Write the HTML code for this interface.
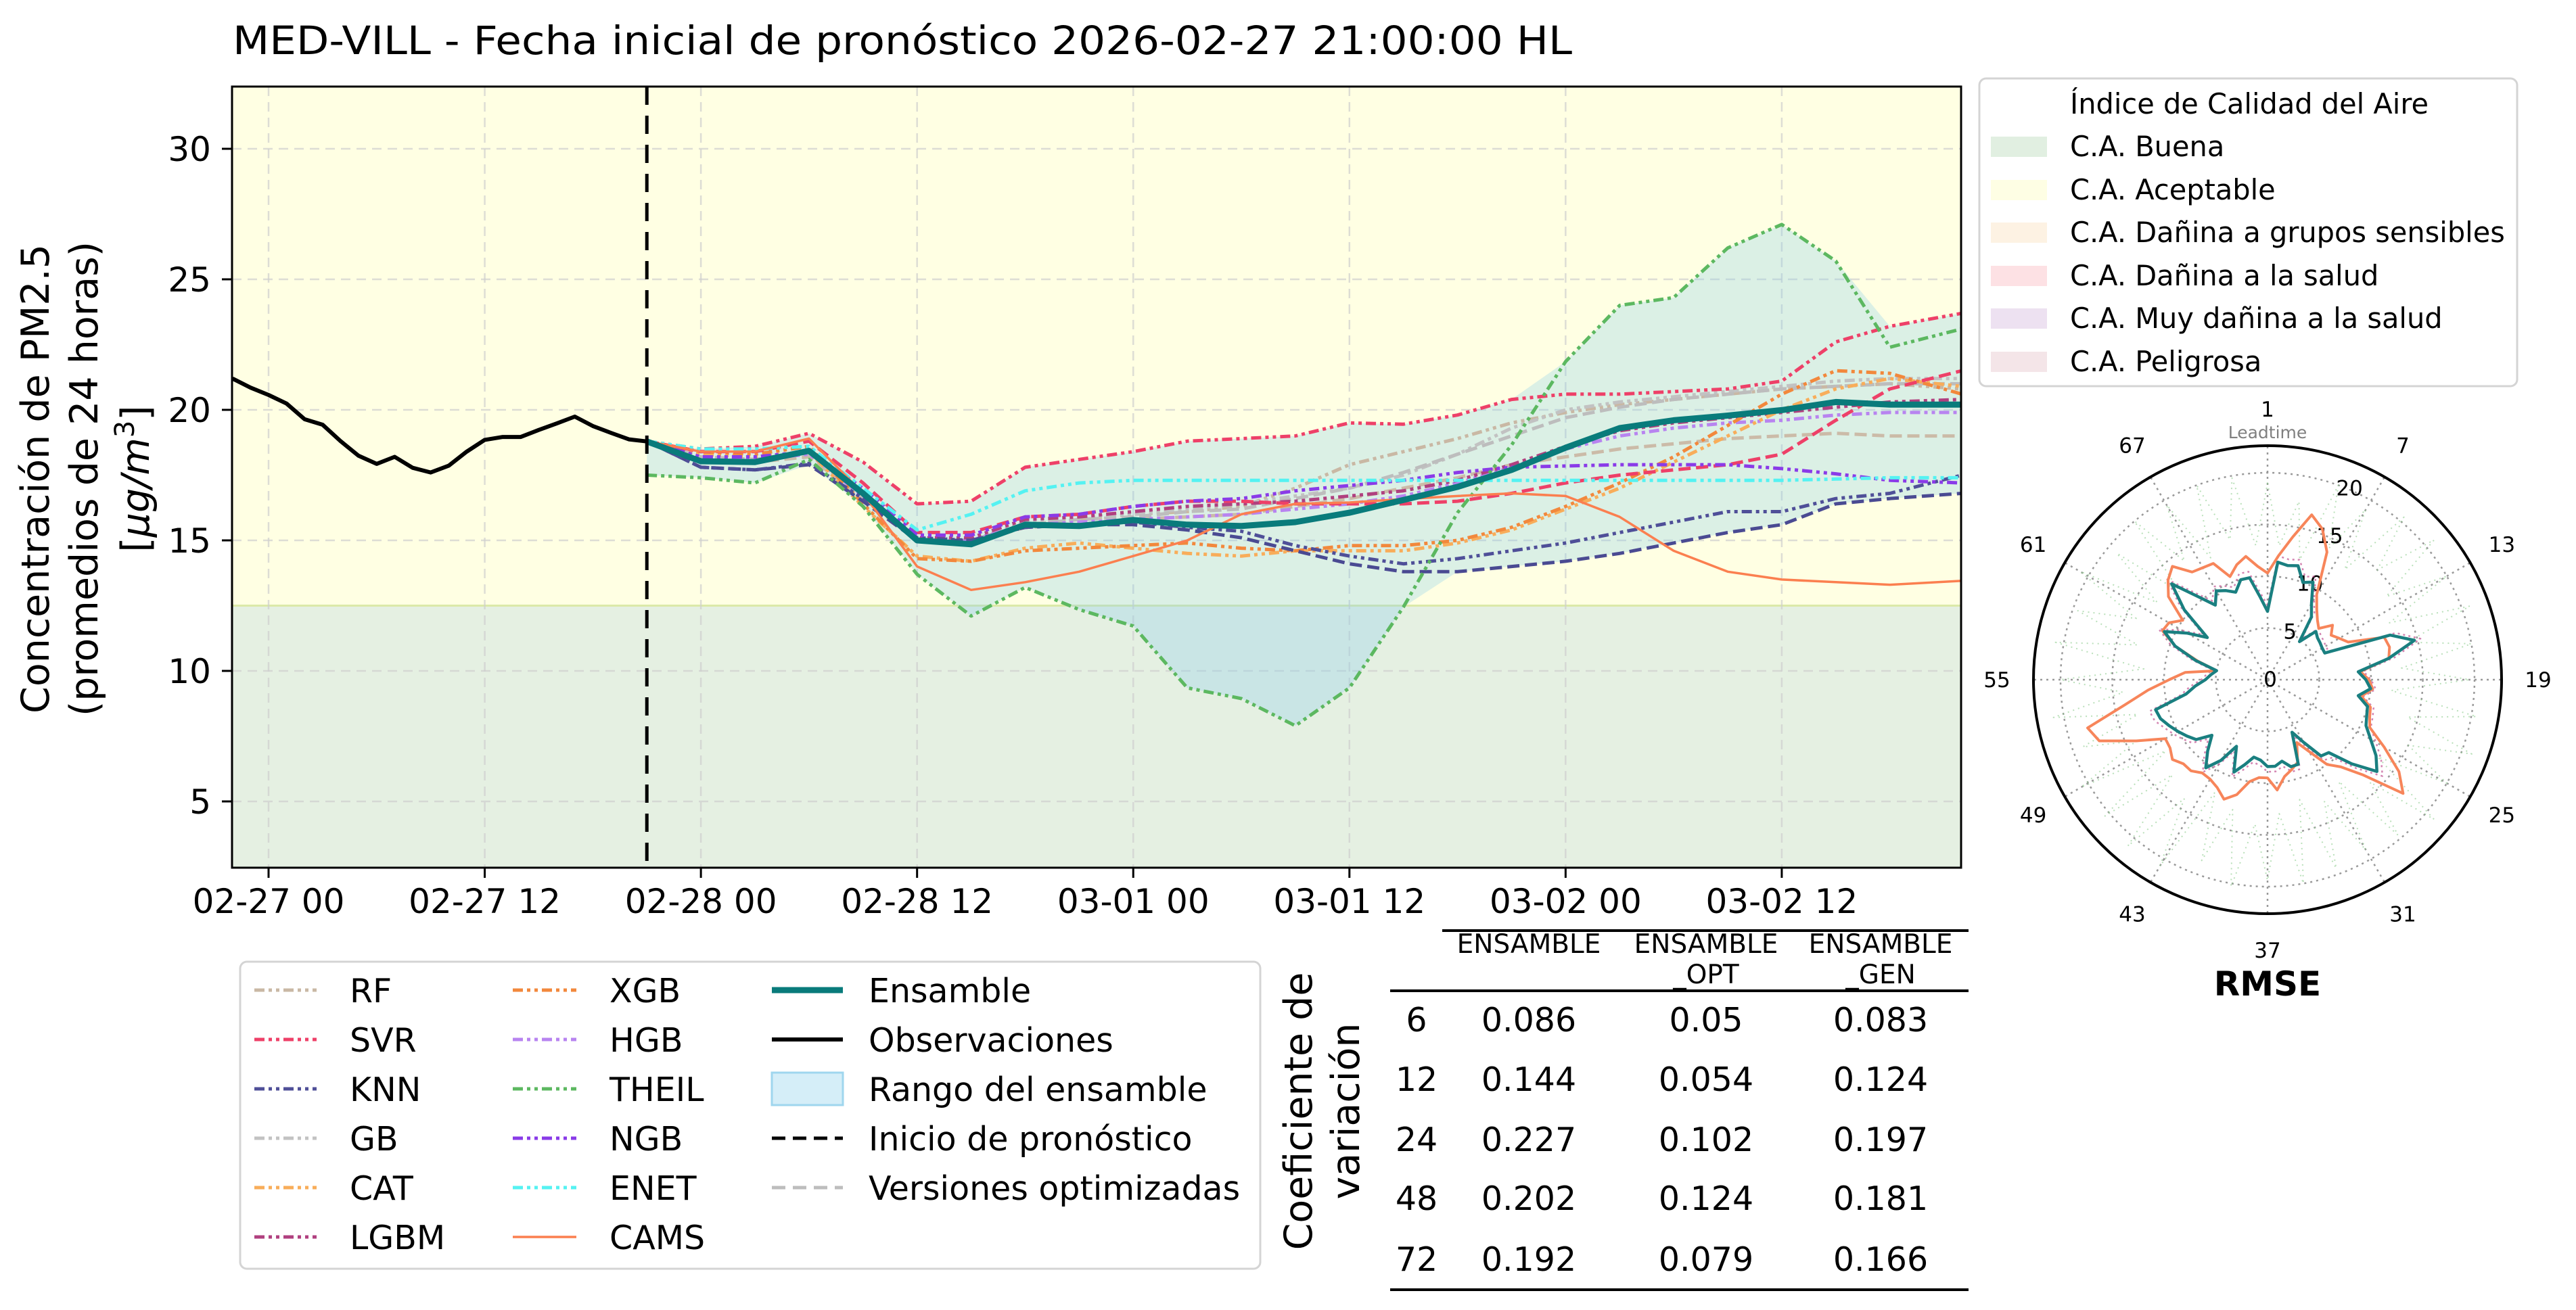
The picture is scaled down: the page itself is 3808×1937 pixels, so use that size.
<!DOCTYPE html>
<html><head><meta charset="utf-8"><style>
html,body{margin:0;padding:0;background:#fff;}
svg{display:block;font-family:"DejaVu Sans","Liberation Sans",sans-serif;}
</style></head><body>
<svg id="fig" width="3808" height="1937" viewBox="0 0 3808 1937" xmlns="http://www.w3.org/2000/svg">
<defs><clipPath id="plotclip"><rect x="343" y="128" width="2556" height="1155"/></clipPath></defs>
<text x="344" y="80" font-size="58" textLength="1980" lengthAdjust="spacingAndGlyphs" fill="#000">MED-VILL - Fecha inicial de pronóstico 2026-02-27 21:00:00 HL</text>
<g id="main"></g>
<g id="legend-aqi"></g>
<g id="polar"></g>
<g id="legend-models"></g>
<g id="table"></g>
</svg>
<script>
// ---------- data: main chart ----------
const obsHours = [-2,-1,0,1,2,3,4,5,6,7,8,9,10,11,12,13,14,15,16,17,18,19,20,21];
const obsValues = [21.2,20.85,20.57,20.24,19.64,19.43,18.8,18.24,17.93,18.2,17.78,17.6,17.86,18.4,18.85,18.96,18.96,19.23,19.48,19.74,19.38,19.12,18.87,18.79];
const fcHours = [21,24,27,30,33,36,39,42,45,48,51,54,57,60,63,66,69,72,75,78,81,84,87,90,94];
const ensamble = [18.79,18.03,18.0,18.43,16.8,15.0,14.85,15.6,15.55,15.78,15.6,15.55,15.7,16.06,16.55,17.05,17.7,18.55,19.3,19.6,19.78,19.99,20.3,20.2,20.2];
const rf   = [18.8,18.2,18.1,18.3,16.7,15.0,15.0,15.6,15.8,16.0,16.1,16.3,17.0,17.9,18.4,18.9,19.5,19.9,20.2,20.4,20.6,20.8,20.9,21.0,20.8];
const svr  = [18.8,18.5,18.6,19.1,18.0,16.4,16.5,17.8,18.1,18.4,18.8,18.9,19.0,19.5,19.45,19.8,20.4,20.6,20.6,20.7,20.8,21.1,22.6,23.2,23.7];
const knn  = [18.8,17.8,17.7,17.95,16.6,15.1,15.0,15.5,15.6,15.7,15.5,15.35,14.8,14.4,14.1,14.3,14.6,14.9,15.3,15.7,16.1,16.1,16.6,16.8,17.5];
const gb   = [18.8,18.3,18.2,18.4,16.8,15.1,15.0,15.7,15.9,16.0,16.2,16.4,16.7,17.0,17.5,18.3,19.3,20.0,20.3,20.5,20.7,20.9,21.1,21.2,21.2];
const cat  = [18.8,18.3,18.2,18.4,16.3,14.4,14.2,14.7,14.9,14.7,14.5,14.4,14.6,14.6,14.6,14.9,15.4,16.2,17.0,18.0,19.0,20.0,20.8,21.2,20.9];
const lgbm = [18.8,18.3,18.2,18.4,16.8,15.1,15.1,15.8,15.9,16.1,16.3,16.4,16.5,16.7,16.9,17.3,17.9,18.6,19.2,19.5,19.7,19.9,20.1,20.3,20.4];
const xgb  = [18.8,18.4,18.3,18.6,16.4,14.3,14.2,14.6,14.7,14.8,14.9,14.7,14.6,14.8,14.8,15.0,15.5,16.3,17.2,18.2,19.4,20.6,21.5,21.4,20.6];
const hgb  = [18.8,18.2,18.1,18.3,16.7,15.0,15.0,15.6,15.7,15.8,15.9,16.0,16.2,16.4,16.7,17.2,17.8,18.5,19.0,19.3,19.5,19.6,19.8,19.9,19.9];
const theil= [17.5,17.4,17.2,18.1,16.3,13.7,12.1,13.2,12.35,11.72,9.35,8.94,7.9,9.35,12.45,16.06,18.65,21.85,24.0,24.3,26.2,27.1,25.7,22.4,23.1];
const ngb  = [18.8,18.2,18.2,18.4,17.0,15.2,15.2,15.9,16.0,16.3,16.5,16.6,16.9,17.1,17.3,17.6,17.8,17.85,17.9,17.9,17.9,17.75,17.55,17.3,17.2];
const enet = [18.8,18.5,18.5,18.6,17.0,15.4,16.0,16.9,17.2,17.3,17.3,17.3,17.3,17.3,17.3,17.3,17.3,17.3,17.3,17.3,17.3,17.3,17.35,17.4,17.4];
const cams = [18.8,18.4,18.4,18.9,16.8,14.0,13.1,13.4,13.8,14.4,15.0,16.0,16.4,16.45,16.58,16.7,16.8,16.7,15.9,14.6,13.8,13.5,13.4,13.3,13.45];
const svrOpt = [18.8,18.4,18.4,18.8,17.2,15.3,15.3,15.9,16.0,16.3,16.5,16.5,16.4,16.4,16.4,16.5,16.8,17.2,17.5,17.7,17.9,18.3,19.6,20.8,21.5];
const knnOpt = [18.8,17.8,17.7,17.9,16.5,15.0,15.0,15.5,15.6,15.6,15.4,15.1,14.6,14.1,13.8,13.8,14.0,14.2,14.5,14.9,15.3,15.6,16.4,16.6,16.8];
const rfOpt  = [18.8,18.1,18.0,18.2,16.6,15.0,14.9,15.5,15.6,15.8,15.9,16.0,16.3,16.6,17.0,17.4,17.9,18.2,18.5,18.7,18.9,19.0,19.1,19.0,19.0];
const gbOpt  = [18.8,18.2,18.1,18.3,16.7,15.0,15.0,15.6,15.8,15.9,16.1,16.2,16.6,17.0,17.6,18.3,19.0,19.7,20.1,20.4,20.6,20.8,20.9,21.0,21.0];
const xTickHours = [0,12,24,36,48,60,72,84];
const xTickLabels = ["02-27 00","02-27 12","02-28 00","02-28 12","03-01 00","03-01 12","03-02 00","03-02 12"];
const yTicks = [5,10,15,20,25,30];
const forecastStartHour = 21;
const aqiThreshold = 12.5;
// ---------- data: polar RMSE ----------
const leadtimes = Array.from({length:72},(_,i)=>i+1);
const rmseEnsamble = [6.6,11.4,11.2,11.4,10.0,10.4,8.5,7.4,4.8,6.6,6.3,6.2,6.1,6.1,12.6,14.7,11.9,8.8,9.5,10.0,8.9,10.0,10.2,10.5,11.5,12.8,13.8,11.5,9.2,9.0,7.0,5.6,8.7,8.7,8.0,8.4,8.4,7.8,7.6,8.5,9.5,7.1,9.0,10.4,9.0,7.6,9.0,9.5,10.0,10.5,11.0,11.2,8.0,7.0,6.0,5.5,5.0,7.2,9.5,11.0,9.0,7.1,10.5,13.1,10.5,8.8,9.9,9.5,9.0,10.0,10.0,8.0];
const rmseCams = [10.3,12,14,16.5,15.5,13.6,9.5,8.3,7.5,7.0,8.2,7.5,8.0,8.6,12.0,12.2,11.9,9.0,9.8,10.2,9.2,10.3,10.5,10.9,13.0,15.5,17.1,13.0,11.0,10.0,8.0,6.7,8.5,9.0,9.5,10.7,9.5,9.5,10.0,11.5,12.3,11.5,11.1,11.0,11.5,11.5,12.0,11.5,11.4,14.0,17.3,18.0,14.0,11.6,9.5,8.0,5.0,7.0,9.5,11.2,11.0,10.0,12.5,13.6,14.3,12.7,12.5,12.4,10.6,11.5,12.1,11.0];
const rmseTheil = [19,13,17.5,12,20,14,19,13,20.5,15,21,14,20,13,20.8,14,20,13,19.5,12,20.5,14,21,15,20,13,21,14,19.6,12,19,13,19.4,12,20,13,19.4,14,20.3,13,18.6,12,20.8,14,21,13,20.5,12,20.8,14,19,13,21,14,20,12,20.8,13,19.5,14,20.9,13,19,12,20,14,19.5,13,20,14,19.8,13];
const rmseLgbm = [7.2,12.0,11.8,12.0,10.6,11.0,9.0,7.9,5.2,7.0,6.7,6.6,6.5,6.5,13.2,15.3,12.5,9.3,10.0,10.5,9.4,10.6,10.8,11.0,12.1,13.4,14.5,12.1,9.8,9.5,7.5,6.0,9.2,9.2,8.5,8.9,8.9,8.3,8.1,9.0,10.0,7.6,9.5,10.9,9.5,8.1,9.5,10.0,10.5,11.0,11.6,11.8,8.5,7.5,6.4,5.9,5.4,7.7,10.0,11.6,9.5,7.6,11.0,13.7,11.0,9.3,10.4,10.0,9.5,10.6,10.6,8.5];
const radialTicks = [0,5,10,15,20];
const angleLabelIdx = [0,6,12,18,24,30,36,42,48,54,60,66];
// ---------- table ----------
const cvRows = ["6","12","24","48","72"];
const cvEns = ["0.086","0.144","0.227","0.202","0.192"];
const cvOpt = ["0.05","0.054","0.102","0.124","0.079"];
const cvGen = ["0.083","0.124","0.197","0.181","0.166"];

const NS="http://www.w3.org/2000/svg";
function mk(tag,attrs,parent,txt){const e=document.createElementNS(NS,tag);for(const k in attrs)e.setAttribute(k,attrs[k]);if(txt!==undefined)e.textContent=txt;parent.appendChild(e);return e;}

const PL=343,PR=2899,PT=128,PB=1283;
function X(h){return 397+26.63*h;}
function Y(v){return 1378-38.6*v;}
const main=document.getElementById('main');
const bgTop=mk('rect',{x:PL,y:PT,width:PR-PL,height:Y(aqiThreshold)-PT,fill:'#ffffe3'},main);


const bgBot=mk('rect',{x:PL,y:Y(aqiThreshold),width:PR-PL,height:PB-Y(aqiThreshold),fill:'#e5f0e2'},main);


const thr=mk('line',{x1:PL,x2:PR,y1:Y(aqiThreshold),y2:Y(aqiThreshold),stroke:'#dbe9a8','stroke-width':3},main);


xTickHours.forEach((h,i)=>{
  const g=mk('line',{x1:X(h),x2:X(h),y1:PT,y2:PB,stroke:'#cfcfcf','stroke-width':2.5,'stroke-dasharray':'14,9',opacity:0.7},main);
  
  
  const t=mk('line',{x1:X(h),x2:X(h),y1:PB,y2:PB+15,stroke:'#000','stroke-width':3},main);
  
  
  const l=mk('text',{x:X(h),y:1350,'font-size':50,'text-anchor':'middle'},main,xTickLabels[i]);
  
  
});
yTicks.forEach(v=>{
  const g=mk('line',{x1:PL,x2:PR,y1:Y(v),y2:Y(v),stroke:'#cfcfcf','stroke-width':2.5,'stroke-dasharray':'14,9',opacity:0.7},main);
  
  
  const t=mk('line',{x1:PL-15,x2:PL,y1:Y(v),y2:Y(v),stroke:'#000','stroke-width':3},main);
  
  
  const l=mk('text',{x:312,y:Y(v)+18,'font-size':50,'text-anchor':'end'},main,String(v));
  
  
});
const plotG=mk('g',{'clip-path':'url(#plotclip)'},main);


const models=[rf,svr,knn,gb,cat,lgbm,xgb,hgb,theil,ngb,enet,svrOpt,knnOpt,rfOpt,gbOpt];
let upper=[],lower=[];
fcHours.forEach((h,i)=>{let a=models.map(m=>m[i]);upper.push(Math.max(...a));lower.push(Math.min(...a));});
let d='M'+fcHours.map((h,i)=>X(h)+','+Y(upper[i])).join(' L')+' L'+fcHours.map((h,i)=>[X(h),Y(lower[i])]).reverse().map(p=>p.join(',')).join(' L')+' Z';
const rng=mk('path',{d:d,fill:'#87ceeb','fill-opacity':0.3,stroke:'none'},plotG);


function pathOf(hs,vs){return 'M'+hs.map((h,i)=>X(h).toFixed(1)+','+Y(vs[i]).toFixed(1)).join(' L');}
const DDD='15,6,5,6,5,6';
const series=[
 ['rf-line',rf,'#c9b8a4',5,DDD],['gb-line',gb,'#c2c2c2',5,DDD],['rf-opt-line',rfOpt,'#cbbba8',5,'18,8'],['gb-opt-line',gbOpt,'#bdbdbd',5,'18,8'],
 ['hgb-line',hgb,'#b884f0',5,DDD],['lgbm-line',lgbm,'#b0407f',5,DDD],['cat-line',cat,'#f8ad5a',5,DDD],['xgb-line',xgb,'#f2883c',5,DDD],
 ['svr-opt-line',svrOpt,'#ee4068',5,'18,8'],['knn-opt-line',knnOpt,'#4a4a92',5,'18,8'],
 ['svr-line',svr,'#ee4068',5,DDD],['knn-line',knn,'#4f4f98',5,DDD],['ngb-line',ngb,'#8a3be8',5,DDD],['enet-line',enet,'#55f2f2',5,DDD],
 ['theil-line',theil,'#5cb860',5,DDD],['cams-line',cams,'#fb7f4f',3.5,'']
];
series.forEach(s=>{
  const p=mk('path',{d:pathOf(fcHours,s[1]),fill:'none',stroke:s[2],'stroke-width':s[3],'stroke-dasharray':s[4],'stroke-linejoin':'round'},plotG);
  
  
});
const obs=mk('path',{d:pathOf(obsHours,obsValues),fill:'none',stroke:'#000','stroke-width':6,'stroke-linejoin':'round'},plotG);


const ens=mk('path',{d:pathOf(fcHours,ensamble),fill:'none',stroke:'#097b7b','stroke-width':9,'stroke-linejoin':'round'},plotG);


const vl=mk('line',{x1:X(forecastStartHour),x2:X(forecastStartHour),y1:PT,y2:PB,stroke:'#000','stroke-width':5,'stroke-dasharray':'27,16'},plotG);


const frame=mk('rect',{x:PL,y:PT,width:PR-PL,height:PB-PT,fill:'none',stroke:'#000','stroke-width':3},main);


const yl=mk('g',{transform:'translate(0,708) rotate(-90)'},main);


mk('text',{x:0,y:72,'font-size':57,'text-anchor':'middle'},yl,'Concentración de PM2.5');
mk('text',{x:0,y:144,'font-size':57,'text-anchor':'middle'},yl,'(promedios de 24 horas)');
const t3=mk('text',{x:0,y:220,'font-size':57,'text-anchor':'middle'},yl);
t3.innerHTML='[<tspan font-style="italic">μg/m</tspan><tspan dy="-22" font-size="40">3</tspan><tspan dy="22">]</tspan>';

// AQI legend
const la=document.getElementById('legend-aqi');
mk('rect',{x:2926,y:116,width:795,height:455,rx:10,fill:'#fff',stroke:'#d4d4d4','stroke-width':3},la);
mk('text',{x:3060,y:168,'font-size':41.5},la,'Índice de Calidad del Aire');
const aqiNames=['C.A. Buena','C.A. Aceptable','C.A. Dañina a grupos sensibles','C.A. Dañina a la salud','C.A. Muy dañina a la salud','C.A. Peligrosa'];
const aqiCols=['#e1efe1','#fefee4','#fdf2e3','#fde1e4','#ede1f1','#f4e5e8'];
const aqiY=[217,281,344,408,471,535];
aqiNames.forEach((n,i)=>{
  const g=mk('g',{},la);
  
  
  mk('rect',{x:2943,y:aqiY[i]-15,width:83,height:30,fill:aqiCols[i]},g);
  mk('text',{x:3060,y:aqiY[i]+14,'font-size':41.5},g,n);
});

// polar
const po=document.getElementById('polar');
const CX=3352,CY=1005,K=15.3,RMAX=346;
function P(i,v){const a=i*5*Math.PI/180;return [CX+K*v*Math.sin(a),CY-K*v*Math.cos(a)];}
radialTicks.slice(1).forEach(v=>{
  const c=mk('circle',{cx:CX,cy:CY,r:K*v,fill:'none',stroke:'#999','stroke-width':2.5,'stroke-dasharray':'3,6'},po);
  
  
});
angleLabelIdx.forEach(i=>{
  const a=i*5*Math.PI/180;
  const g=mk('line',{x1:CX,y1:CY,x2:CX+RMAX*Math.sin(a),y2:CY-RMAX*Math.cos(a),stroke:'#999','stroke-width':2.5,'stroke-dasharray':'3,6'},po);
  
  
  const t=mk('text',{x:CX+400*Math.sin(a),y:CY-400*Math.cos(a)+11,'font-size':31,'text-anchor':'middle'},po,String(leadtimes[i]));
  
  
});
radialTicks.forEach(v=>{
  const a=22.5*Math.PI/180;
  const t=mk('text',{x:CX+K*v*Math.sin(a)+4,y:CY-K*v*Math.cos(a)+10,'font-size':31,'text-anchor':'middle'},po,String(v));
  
  
});
function polyOf(vals){return vals.map((v,i)=>P(i,v).map(n=>n.toFixed(1)).join(',')).join(' ');}
[[rmseTheil,'#8ccc8c',2,'2,6',0.6,'rmse-theil'],[rmseLgbm,'#c05090',2.5,'3,5',0.7,'rmse-lgbm'],[rmseCams,'#f7855a',4,'',1,'rmse-cams'],[rmseEnsamble,'#1a7f80',4.5,'',1,'rmse-ensamble']].forEach(s=>{
  const p=mk('polygon',{points:polyOf(s[0]),fill:'none',stroke:s[1],'stroke-width':s[2],'stroke-dasharray':s[3],'stroke-opacity':s[4],'stroke-linejoin':'round'},po);
  
  
});
const oc=mk('circle',{cx:CX,cy:CY,r:RMAX,fill:'none',stroke:'#000','stroke-width':4},po);


const lt=mk('text',{x:CX,y:648,'font-size':25,'text-anchor':'middle',fill:'#808080'},po,'Leadtime');


const rm=mk('text',{x:CX,y:1472,'font-size':50,'font-weight':'bold','text-anchor':'middle'},po,'RMSE');



// model legend
const lm=document.getElementById('legend-models');
mk('rect',{x:355,y:1422,width:1508,height:454,rx:10,fill:'#fff',stroke:'#d4d4d4','stroke-width':3},lm);
const rowsY=[1464,1537,1610,1683,1756,1829];
const legItems=[
 [0,0,'RF','#c9b8a4',DDD,5],[0,1,'SVR','#ee4068',DDD,5],[0,2,'KNN','#4f4f98',DDD,5],[0,3,'GB','#c2c2c2',DDD,5],[0,4,'CAT','#f8ad5a',DDD,5],[0,5,'LGBM','#b0407f',DDD,5],
 [1,0,'XGB','#f2883c',DDD,5],[1,1,'HGB','#b884f0',DDD,5],[1,2,'THEIL','#5cb860',DDD,5],[1,3,'NGB','#8a3be8',DDD,5],[1,4,'ENET','#55f2f2',DDD,5],[1,5,'CAMS','#fb7f4f','',3.5],
 [2,0,'Ensamble','#097b7b','',9],[2,1,'Observaciones','#000','',6],[2,2,'Rango del ensamble','range','',0],[2,3,'Inicio de pronóstico','#000','20,11',5],[2,4,'Versiones optimizadas','#bdbdbd','20,11',5]
];
const colHx=[[376,468],[758,852],[1141,1246]],colTx=[517,901,1284];
legItems.forEach(it=>{
  const g=mk('g',{},lm);
  
  
  const y=rowsY[it[1]],hx=colHx[it[0]];
  if(it[3]==='range'){mk('rect',{x:hx[0],y:y-24,width:hx[1]-hx[0],height:48,fill:'#87ceeb','fill-opacity':0.35,stroke:'#9fd6ee','stroke-width':3},g);}
  else mk('line',{x1:hx[0],x2:hx[1],y1:y,y2:y,stroke:it[3],'stroke-width':it[5],'stroke-dasharray':it[4]},g);
  mk('text',{x:colTx[it[0]],y:y+18,'font-size':49},g,it[2]);
});

// table
const tb=document.getElementById('table');
const cvt=mk('g',{transform:'translate(1954,1643) rotate(-90)'},tb);


mk('text',{x:0,y:-15,'font-size':57,'text-anchor':'middle'},cvt,'Coeficiente de');
mk('text',{x:0,y:55,'font-size':57,'text-anchor':'middle'},cvt,'variación');
mk('line',{x1:2132,x2:2910,y1:1376,y2:1376,stroke:'#000','stroke-width':4},tb);
mk('line',{x1:2055,x2:2910,y1:1465,y2:1465,stroke:'#000','stroke-width':4},tb);
mk('line',{x1:2055,x2:2910,y1:1907,y2:1907,stroke:'#000','stroke-width':4},tb);
const colX=[2094,2260,2522,2780];
[['ENSAMBLE',''],['ENSAMBLE','_OPT'],['ENSAMBLE','_GEN']].forEach((h,i)=>{
  const t=mk('text',{x:colX[i+1],y:1409,'font-size':39,'text-anchor':'middle'},tb,h[0]);
  
  
  if(h[1]) mk('text',{x:colX[i+1],y:1454,'font-size':39,'text-anchor':'middle'},tb,h[1]);
});
const rowY=[1507,1595,1684,1771,1861];
cvRows.forEach((r,i)=>{
  [r,cvEns[i],cvOpt[i],cvGen[i]].forEach((v,j)=>{
    const t=mk('text',{x:colX[j],y:rowY[i]+18,'font-size':49,'text-anchor':'middle'},tb,v);
    
    
  });
});
</script>
</body></html>
